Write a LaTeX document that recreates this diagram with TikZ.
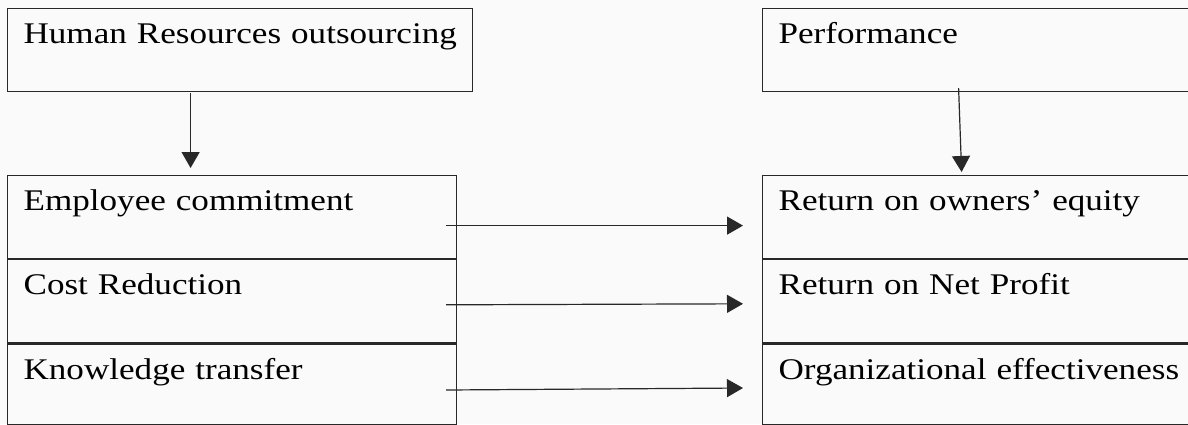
\documentclass[tikz,border=0pt]{standalone}
\usepackage{fontspec}
\setmainfont{Liberation Serif}[FakeStretch=1.17]
\usetikzlibrary{arrows.meta, positioning}

\definecolor{paper}{RGB}{250,250,250}
\definecolor{ink}{RGB}{40,40,40}

\begin{document}
\begin{tikzpicture}[x=0.5pt, y=-0.5pt]
\useasboundingbox [fill=paper] (0,0) rectangle (1188,424);

\begin{scope}[every node/.style={rectangle, draw=ink, line width=0.6pt, anchor=north west,
              inner xsep=8pt, inner ysep=0pt, text height=17.5pt, text depth=24pt,
              align=left, font=\fontsize{15}{18}\selectfont}]
    \node (hro) at (7, 8) [text width=216.5pt] {\mbox{Human Resources outsourcing}};
    \node (perf) at (762, 8) [text width=208pt] {Performance};

    \node (emp) at (7, 175) [text width=208.5pt] {Employee commitment};
    \node (cost) [below=0pt of emp, text width=208.5pt] {Cost Reduction};
    \node (know) [below=0pt of cost, text width=208.5pt, text depth=23pt] {Knowledge transfer};

    \node (roe) at (762, 175) [text width=208pt] {Return on owners’ equity};
    \node (rnp) [below=0pt of roe, text width=208pt] {Return on Net Profit};
    \node (oe) [below=0pt of rnp, text width=208pt, text depth=23pt] {Organizational effectiveness};
\end{scope}

\begin{scope}[>={Triangle[length=8pt, width=9pt]}, every path/.style={draw=ink, line width=0.6pt}]
    \draw [->] ([shift={(-49.5,1)}]hro.south) -- ([shift={(-41.5,-7)}]emp.north);
    \draw [->] ([shift={(-28,-4)}]perf.south) -- ([shift={(-25,-3)}]roe.north);

    \draw [->] ([shift={(-11,8.5)}]emp.east) -- ([shift={(-19,8.5)}]roe.west);
    \draw [->] ([shift={(-11,3.5)}]cost.east) -- ([shift={(-19,2.5)}]rnp.west);
    \draw [->] ([shift={(-11,5.5)}]know.east) -- ([shift={(-19,3.5)}]oe.west);
\end{scope}
\end{tikzpicture}
\end{document}
